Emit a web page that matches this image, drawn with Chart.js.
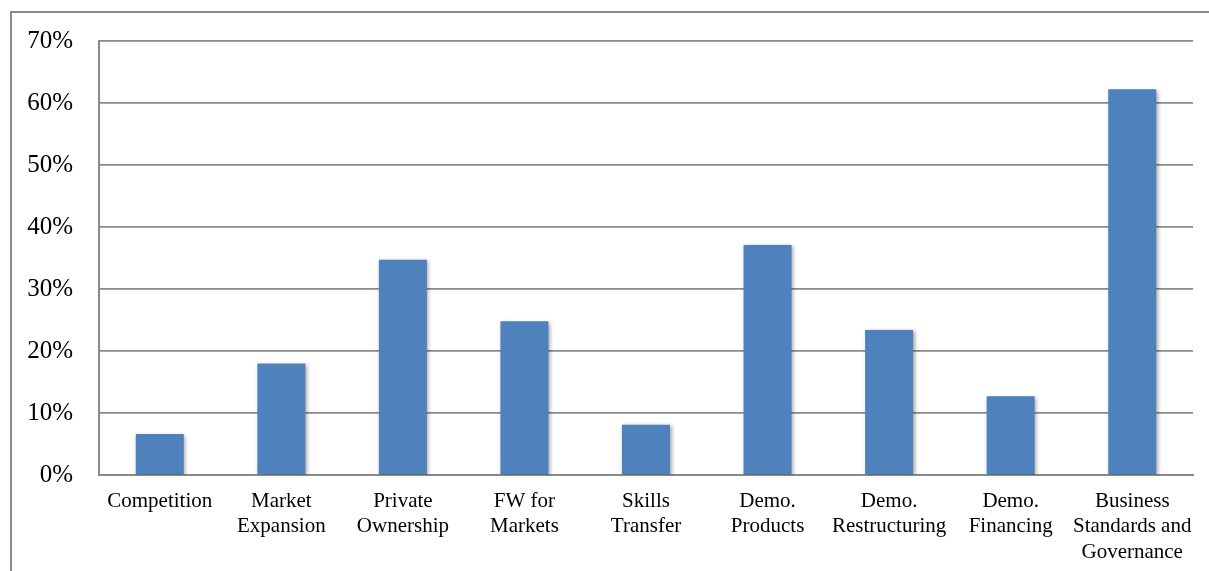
<!DOCTYPE html>
<html>
<head>
<meta charset="utf-8">
<script src="https://cdn.jsdelivr.net/npm/chart.js@4.4.1/dist/chart.umd.min.js"></script>
<style>
  html, body { margin: 0; padding: 0; background: #fff; }
  #wrap { position: relative; width: 1209px; height: 571px; overflow: hidden; }
  #frame { position: absolute; left: 10px; top: 11px; width: 1300px; height: 700px; border: 2px solid #8a8a8a; box-sizing: border-box; }
  #c { position: absolute; left: 0; top: 0; }
</style>
</head>
<body>
<div id="wrap">
  <div id="frame"></div>
  <canvas id="c" width="1209" height="571"></canvas>
</div>
<script>
const categories = [
  ["Competition"],
  ["Market", "Expansion"],
  ["Private", "Ownership"],
  ["FW for", "Markets"],
  ["Skills", "Transfer"],
  ["Demo.", "Products"],
  ["Demo.", "Restructuring"],
  ["Demo.", "Financing"],
  ["Business", "Standards and", "Governance"]
];
const values = [6.6, 18.0, 34.7, 24.8, 8.1, 37.1, 23.4, 12.7, 62.2];
const yTickSuffix = "%";

const barShadow = {
  id: 'barShadow',
  beforeDatasetsDraw(chart) {
    const ctx = chart.ctx;
    ctx.save();
    ctx.shadowColor = 'rgba(0,0,0,0.35)';
    ctx.shadowBlur = 4;
    ctx.shadowOffsetX = 1.5;
    ctx.shadowOffsetY = 1.5;
  },
  afterDatasetsDraw(chart) {
    chart.ctx.restore();
  }
};

new Chart(document.getElementById('c'), {
  type: 'bar',
  data: {
    labels: categories,
    datasets: [{
      data: values,
      backgroundColor: '#4F81BD',
      borderWidth: 0,
      categoryPercentage: 1.0,
      barPercentage: 0.395
    }]
  },
  options: {
    responsive: false,
    animation: false,
    devicePixelRatio: 1,
    layout: { padding: { top: 41, right: 16, left: 10, bottom: 0 } },
    plugins: { legend: { display: false }, tooltip: { enabled: false } },
    scales: {
      x: {
        grid: { display: false, drawTicks: false },
        border: { display: true, color: '#8a8a8a', width: 2 },
        ticks: {
          color: '#000',
          font: { family: 'Liberation Serif', size: 21, lineHeight: 1.2 },
          padding: 14,
          maxRotation: 0,
          autoSkip: false
        },
        afterFit(scale) { scale.height = 96; }
      },
      y: {
        min: 0,
        max: 70,
        grid: { color: '#8a8a8a', lineWidth: 1.7, drawTicks: false },
        border: { display: true, color: '#8a8a8a', width: 2 },
        ticks: {
          stepSize: 10,
          color: '#000',
          font: { family: 'Liberation Serif', size: 25 },
          padding: 26,
          callback: v => v + yTickSuffix
        },
        afterFit(scale) { scale.width = 89; }
      }
    }
  },
  plugins: [barShadow]
});
</script>
</body>
</html>
